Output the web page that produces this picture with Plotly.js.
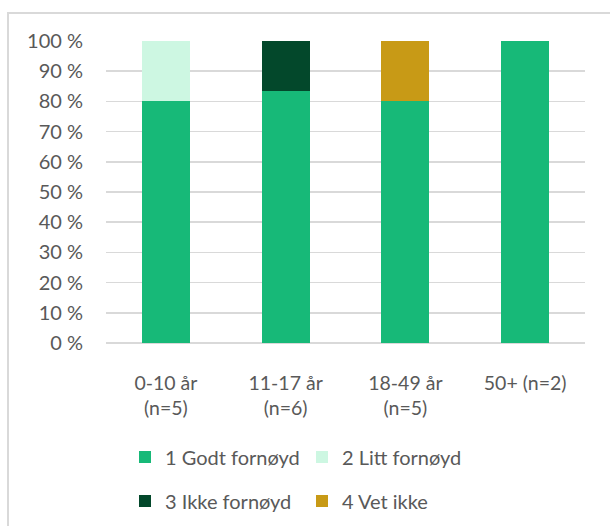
<!DOCTYPE html>
<html>
<head>
<meta charset="utf-8">
<script src="https://cdn.plot.ly/plotly-3.0.1.min.js"></script>
<style>
  html, body { margin: 0; padding: 0; background: #fff; overflow: hidden; }
  #wrap { position: relative; width: 610px; height: 526px; }
  #frame { position: absolute; left: 7px; top: 12px; width: 700px; height: 700px;
           border-left: 2px solid #d9d9d9; border-top: 2px solid #d9d9d9; box-sizing: border-box; }
  #chart { position: absolute; left: 0; top: 0; width: 610px; height: 526px; }
</style>
</head>
<body>
<div id="wrap">
  <div id="frame"></div>
  <div id="chart"></div>
</div>
<script>
// Age groups (with number of respondents)
const categories = ['0-10 år<br>(n=5)', '11-17 år<br>(n=6)', '18-49 år<br>(n=5)', '50+ (n=2)'];

// Share of answers per group, in percent
const godtFornoyd  = [80, 83.3, 80, 100];
const littFornoyd  = [20, 0, 0, 0];
const ikkeFornoyd  = [0, 16.7, 0, 0];
const vetIkke      = [0, 0, 20, 0];

const seriesNames  = ['1 Godt fornøyd', '2 Litt fornøyd', '3 Ikke fornøyd', '4 Vet ikke'];
const seriesColors = ['#17b978', '#cdf7e2', '#03482b', '#c89a16'];
const yTickVals    = [0, 10, 20, 30, 40, 50, 60, 70, 80, 90, 100];
const yTickText    = yTickVals.map(v => v + ' %');

const W = 610, H = 526;
const family = 'Lato, "Open Sans", sans-serif';
const textColor = '#595959';
const yFont = { family: family, size: 20, color: textColor };
const xFont = { family: family, size: 19.5, color: textColor };
const legendFont = { family: family, size: 20, color: textColor };

const allSeries = [godtFornoyd, littFornoyd, ikkeFornoyd, vetIkke];
const traces = allSeries.map((vals, i) => ({
  type: 'bar',
  name: seriesNames[i],
  x: categories,
  y: vals,
  marker: { color: seriesColors[i], line: { width: 0 } },
  legend: i < 2 ? 'legend' : 'legend2',
  hoverinfo: 'skip'
}));

// Two legend rows laid out in fixed columns, positioned in container space
const legendBase = {
  orientation: 'h',
  xref: 'container',
  yref: 'container',
  xanchor: 'left',
  yanchor: 'middle',
  entrywidth: 132,
  entrywidthmode: 'pixels',
  itemwidth: 30,
  font: legendFont,
  bgcolor: 'rgba(0,0,0,0)',
  traceorder: 'normal'
};

const layout = {
  width: W,
  height: H,
  paper_bgcolor: 'rgba(0,0,0,0)',
  plot_bgcolor: 'rgba(0,0,0,0)',
  margin: { l: 106, r: 25, t: 41, b: 183, pad: 0, autoexpand: false },
  barmode: 'stack',
  bargap: 0.6,
  font: yFont,
  showlegend: true,
  xaxis: {
    type: 'category',
    automargin: false,
    showgrid: false,
    showline: false,
    zeroline: false,
    ticks: '',
    tickfont: xFont,
    ticklabelstandoff: 26,
    fixedrange: true
  },
  yaxis: {
    range: [0, 100],
    automargin: false,
    tickvals: yTickVals,
    ticktext: yTickText,
    showgrid: true,
    gridcolor: '#d9d9d9',
    gridwidth: 1.5,
    zeroline: true,
    zerolinecolor: '#d9d9d9',
    zerolinewidth: 1.5,
    showline: false,
    ticks: '',
    tickfont: yFont,
    ticklabelstandoff: 22,
    fixedrange: true
  },
  legend: Object.assign({}, legendBase, { x: 125 / W, y: 1 - 457 / H }),
  legend2: Object.assign({}, legendBase, { x: 125 / W, y: 1 - 501 / H })
};

Plotly.newPlot('chart', traces, layout, { staticPlot: true, displayModeBar: false });
</script>
</body>
</html>
